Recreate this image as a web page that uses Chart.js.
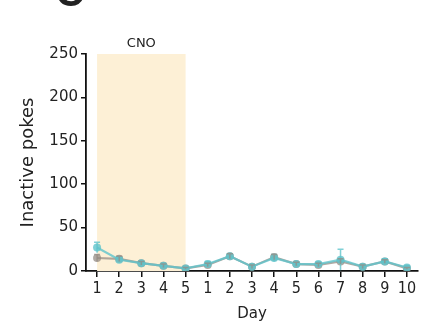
<!DOCTYPE html>
<html>
<head>
<meta charset="utf-8">
<style>
  html, body { margin: 0; padding: 0; background: #ffffff; }
  #wrap { position: relative; width: 429px; height: 327px; }
</style>
<script src="https://cdn.jsdelivr.net/npm/chart.js@4.4.1/dist/chart.umd.min.js"></script>
</head>
<body>
<div id="wrap"><canvas id="c" width="429" height="327"></canvas></div>
<script>
// Session days: 5 CNO days followed by 10 post days
const dayLabels = ['1', '2', '3', '4', '5', '1', '2', '3', '4', '5', '6', '7', '8', '9', '10'];
const yTicks = [0, 50, 100, 150, 200, 250];

// Mean inactive pokes per group
const tealMeans = [27, 13, 9, 6, 3, 8, 17, 5, 15, 8, 8, 13, 5, 11, 4];
const tealErr   = [6, 3, 2, 2, 1, 3, 3, 2, 4, 2, 2, 12, 2, 3, 2];
const grayMeans = [15, 14, 9, 6, 3, 7, 17, 5, 16, 8, 7, 11, 5, 11, 3];
const grayErr   = [4, 3, 2, 2, 1, 2, 3, 2, 3, 2, 2, 3, 2, 2, 1];

// Index range of the CNO period
const cnoStart = 0;
const cnoEnd = 4;

const TEAL = 'rgba(95, 196, 204, 0.8)';
const GRAY = 'rgba(150, 140, 132, 0.75)';

// Shaded CNO block with its caption, and the panel letter
const backdrop = {
  id: 'backdrop',
  beforeDatasetsDraw(chart) {
    const { ctx, scales: { x, y } } = chart;
    const x0 = x.getPixelForValue(cnoStart);
    const x1 = x.getPixelForValue(cnoEnd);
    const yTop = y.getPixelForValue(250);
    const yBot = y.getPixelForValue(0);
    ctx.save();
    ctx.fillStyle = '#fdf0d6';
    ctx.fillRect(x0, yTop, x1 - x0, yBot - yTop);
    ctx.fillStyle = '#222';
    ctx.font = '13px "DejaVu Sans", sans-serif';
    ctx.textAlign = 'center';
    ctx.textBaseline = 'alphabetic';
    ctx.fillText('CNO', (x0 + x1) / 2, yTop - 7);
    ctx.font = 'bold 40px "Liberation Sans", Arial, sans-serif';
    ctx.fillText('C', 70, 6);
    ctx.restore();
  }
};

// Vertical error bars drawn through the value scale
const errorBars = {
  id: 'errorBars',
  afterDatasetsDraw(chart) {
    const { ctx, scales: { y } } = chart;
    const errs = [tealErr, grayErr];
    ctx.save();
    chart.data.datasets.forEach((ds, di) => {
      const meta = chart.getDatasetMeta(di);
      ctx.strokeStyle = ds.borderColor;
      ctx.lineWidth = 1.5;
      meta.data.forEach((pt, i) => {
        const v = ds.data[i];
        const e = errs[di][i];
        const yHi = y.getPixelForValue(v + e);
        const yLo = y.getPixelForValue(Math.max(0, v - e));
        ctx.beginPath();
        ctx.moveTo(pt.x, yHi); ctx.lineTo(pt.x, yLo);
        ctx.moveTo(pt.x - 3, yHi); ctx.lineTo(pt.x + 3, yHi);
        ctx.stroke();
      });
    });
    ctx.restore();
  }
};

new Chart(document.getElementById('c'), {
  type: 'line',
  data: {
    labels: dayLabels,
    datasets: [
      { label: 'Group A', data: tealMeans, borderColor: TEAL, backgroundColor: TEAL,
        borderWidth: 2.2, pointRadius: 4, pointBorderWidth: 0, tension: 0 },
      { label: 'Group B', data: grayMeans, borderColor: GRAY, backgroundColor: GRAY,
        borderWidth: 2.2, pointRadius: 4, pointBorderWidth: 0, tension: 0 }
    ]
  },
  options: {
    responsive: false,
    animation: false,
    devicePixelRatio: 1,
    layout: { padding: { left: 18, right: 11, top: 54, bottom: 4 } },
    plugins: { legend: { display: false }, tooltip: { enabled: false } },
    scales: {
      x: {
        type: 'category',
        offset: true,
        grid: { display: true, drawOnChartArea: false, drawTicks: true, tickLength: 6, color: '#111', lineWidth: 1.5 },
        border: { display: true, color: '#111', width: 1.8 },
        ticks: { color: '#222', font: { family: '"Liberation Sans Narrow", "DejaVu Sans Condensed", sans-serif', size: 16 }, padding: 2, maxRotation: 0, autoSkip: false },
        title: { display: true, text: 'Day', color: '#222', font: { family: '"DejaVu Sans", sans-serif', size: 15 }, padding: { top: 2, bottom: 0 } },
        afterFit(scale) { scale.height = 52; }
      },
      y: {
        min: 0,
        max: 250,
        afterBuildTicks(scale) { scale.ticks = yTicks.map(v => ({ value: v })); },
        grid: { display: true, drawOnChartArea: false, drawTicks: true, tickLength: 5, color: '#111', lineWidth: 1.5 },
        border: { display: true, color: '#111', width: 1.8 },
        ticks: { color: '#222', font: { family: '"DejaVu Sans", sans-serif', size: 15 }, padding: 3 },
        title: { display: true, text: 'Inactive pokes', color: '#222', font: { family: '"DejaVu Sans", sans-serif', size: 18 }, padding: { top: 0, bottom: 0 } },
        afterFit(scale) { scale.width = 68; }
      }
    }
  },
  plugins: [backdrop, errorBars]
});
</script>
</body>
</html>
